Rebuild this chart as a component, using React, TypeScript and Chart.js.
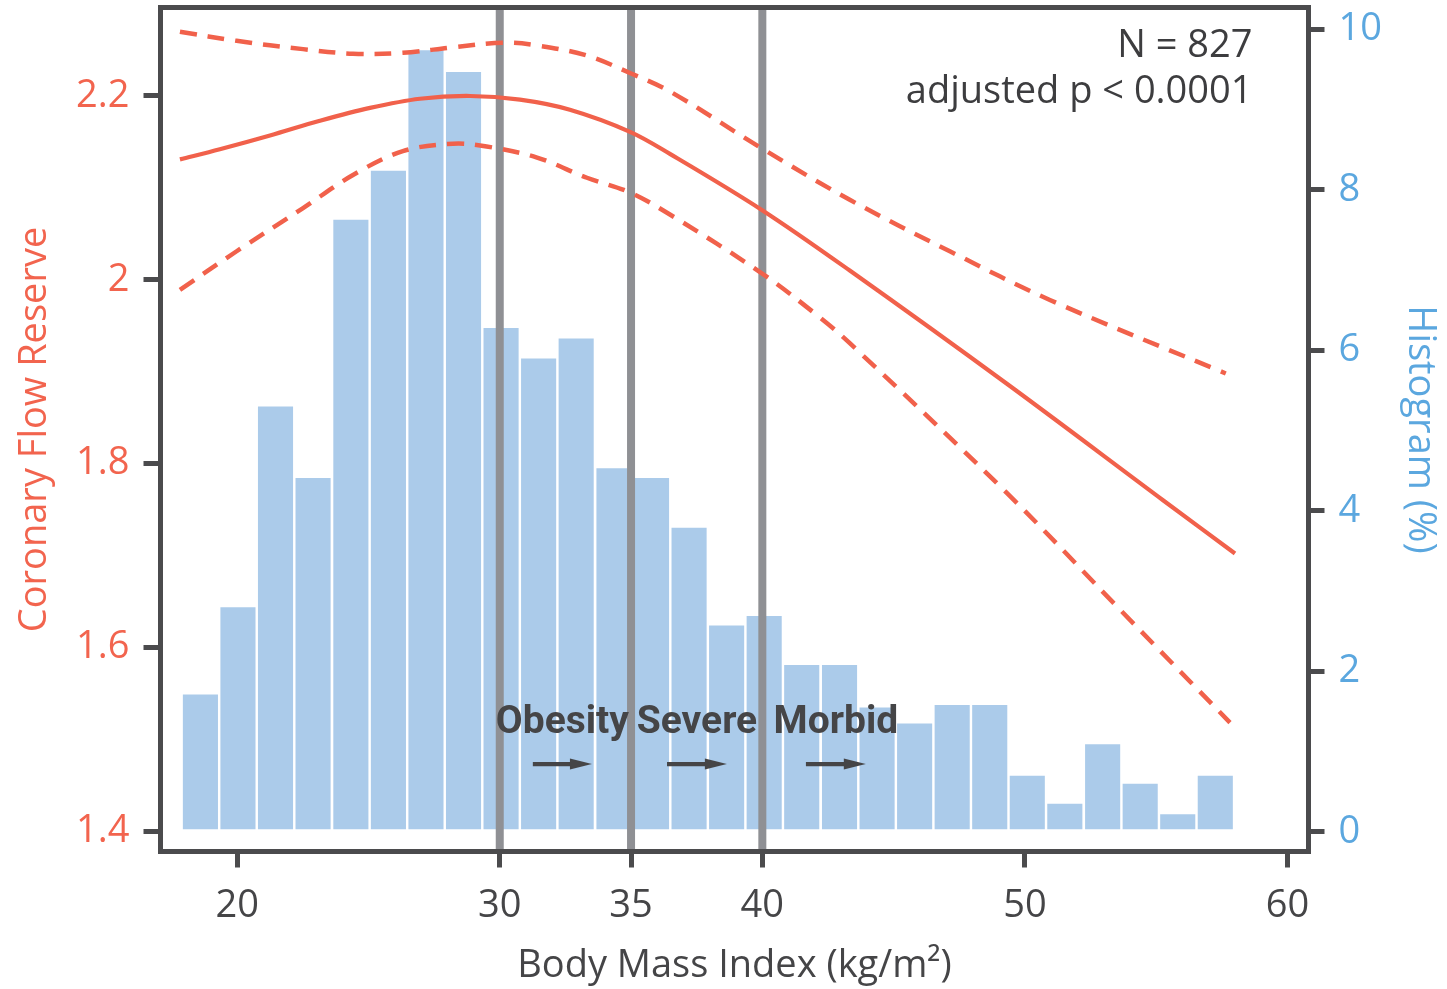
import React, { useEffect, useRef } from "react";
import { Chart, registerables } from "chart.js";

Chart.register(...registerables);

// ---------- data ----------
const binCenters = [
  18.6, 20.03, 21.46, 22.89, 24.33, 25.76, 27.19, 28.62, 30.05, 31.48, 32.91, 34.35, 35.78, 37.21,
  38.64, 40.07, 41.5, 42.94, 44.37, 45.8, 47.23, 48.66, 50.09, 51.52, 52.96, 54.39, 55.82, 57.25,
];
const histPercent = [
  1.71, 2.8, 5.3, 4.41, 7.63, 8.24, 9.74, 9.47, 6.28, 5.9, 6.15, 4.53, 4.41, 3.79,
  2.57, 2.69, 2.08, 2.08, 1.55, 1.35, 1.58, 1.58, 0.7, 0.35, 1.09, 0.6, 0.22, 0.7,
];

const fitBmi = [17.82, 19.34, 21.25, 23.15, 25.06, 26.96, 28.87, 30.77, 32.67, 34.96, 36.48, 39.98, 43.33, 49.3, 55.26, 58.0];
const fitCfr = [2.131, 2.142, 2.157, 2.173, 2.187, 2.197, 2.2, 2.196, 2.185, 2.161, 2.137, 2.076, 2.01, 1.887, 1.76, 1.702];

const upperBmi = [17.82, 19.98, 22.51, 24.41, 26.31, 28.22, 30.12, 31.42, 33.32, 34.96, 36.48, 39.98, 43.33, 47.14, 50.95, 57.65];
const upperCfr = [2.27, 2.26, 2.251, 2.246, 2.247, 2.253, 2.258, 2.255, 2.244, 2.225, 2.205, 2.143, 2.087, 2.031, 1.978, 1.898];

const lowerBmi = [17.82, 19.98, 22.51, 24.41, 26.31, 28.22, 29.5, 31.42, 33.32, 34.96, 36.48, 39.98, 42.19, 43.33, 49.31, 53.62, 57.81];
const lowerCfr = [1.989, 2.031, 2.078, 2.114, 2.14, 2.148, 2.145, 2.133, 2.111, 2.095, 2.071, 2.007, 1.959, 1.931, 1.768, 1.641, 1.518];

const cutoffs = [30, 35, 40];
const zoneLabels = ["Obesity", "Severe", "Morbid"];
const zoneArrowStart = [31.26, 36.37, 41.66];
const zoneArrowEnd = [33.51, 38.65, 43.94];
const ZONE_TEXT_Y = 1.507;
const ZONE_ARROW_Y = 1.4728;

const xTicks = [20, 30, 35, 40, 50, 60];
const yTicks = [1.4, 1.6, 1.8, 2, 2.2];
const y1Ticks = [0, 2, 4, 6, 8, 10];
const statsLines = ["N = 827", "adjusted p < 0.0001"];

const X_MIN = 17.08, X_MAX = 60.8;
const Y_MIN = 1.3777, Y_MAX = 2.2963;
const Y1_MIN = -0.2455, Y1_MAX = 10.274;

// ---------- styles ----------
const RED = "#f1614b";
const RED_TEXT = "#f2644e";
const BLUE_TEXT = "#5ba7df";
const BAR = "#abcbea";
const FRAME = "#4b4b4d";
const CUT = "#8f9094";
const DARK = "#454547";
const FONT = "'Open Sans', sans-serif";

const overlayPlugin = {
  id: "overlay",
  afterDatasetsDraw(chart: any) {
    const { ctx, chartArea, scales } = chart;
    const xs = scales.x, ys = scales.y;
    ctx.save();
    ctx.fillStyle = DARK;
    ctx.strokeStyle = DARK;
    ctx.font = "bold 39px Roboto";
    ctx.textAlign = "center";
    ctx.textBaseline = "alphabetic";
    zoneLabels.forEach((lab, i) => {
      const x0 = xs.getPixelForValue(zoneArrowStart[i]);
      const x1 = xs.getPixelForValue(zoneArrowEnd[i]);
      const ty = ys.getPixelForValue(ZONE_TEXT_Y);
      ctx.fillText(lab, (x0 + x1) / 2, ty);
      const ay = ys.getPixelForValue(ZONE_ARROW_Y);
      ctx.lineWidth = 4.3;
      ctx.beginPath();
      ctx.moveTo(x0, ay);
      ctx.lineTo(x1 - 18, ay);
      ctx.stroke();
      ctx.beginPath();
      ctx.moveTo(x1, ay);
      ctx.lineTo(x1 - 22, ay - 5.5);
      ctx.lineTo(x1 - 22, ay + 5.5);
      ctx.closePath();
      ctx.fill();
    });
    ctx.font = "38px " + FONT;
    ctx.textAlign = "right";
    ctx.fillStyle = "#3d3d3f";
    statsLines.forEach((s, i) => {
      ctx.fillText(s, chartArea.right - 56, chartArea.top + 49.5 + i * 46);
    });
    ctx.lineWidth = 5;
    ctx.strokeStyle = FRAME;
    ctx.strokeRect(chartArea.left, chartArea.top, chartArea.right - chartArea.left, chartArea.bottom - chartArea.top);
    ctx.restore();
  },
};

export default function App() {
  const ref = useRef<HTMLCanvasElement | null>(null);

  useEffect(() => {
    document.body.style.margin = "0";
    document.body.style.overflow = "hidden";
    const canvas = ref.current;
    if (!canvas) return;

    const tickGrid = (len: number) => ({
      display: true,
      offset: false,
      drawOnChartArea: false,
      drawTicks: true,
      tickLength: len,
      lineWidth: 5,
      tickWidth: 5,
      color: FRAME,
      tickColor: FRAME,
    });

    const lineCommon = {
      type: "line",
      yAxisID: "y",
      xAxisID: "x",
      borderColor: RED,
      pointRadius: 0,
      tension: 0.35,
      fill: false,
    };

    const datasets: any[] = [
      {
        type: "bar",
        label: "Histogram",
        data: binCenters.map((x, i) => ({ x, y: histPercent[i] })),
        yAxisID: "y1",
        xAxisID: "x",
        backgroundColor: BAR,
        borderWidth: 0,
        barPercentage: 0.935,
        categoryPercentage: 1,
        order: 10,
      },
      ...cutoffs.map((c) => ({
        type: "line",
        label: "cut " + c,
        data: [
          { x: c, y: Y_MIN },
          { x: c, y: Y_MAX },
        ],
        yAxisID: "y",
        xAxisID: "x",
        borderColor: CUT,
        borderWidth: 8,
        borderCapStyle: "butt",
        pointRadius: 0,
        fill: false,
        order: 5,
      })),
      {
        ...lineCommon,
        label: "upper",
        data: upperBmi.map((x, i) => ({ x, y: upperCfr[i] })),
        borderWidth: 4.5,
        borderDash: [17, 11],
        borderCapStyle: "butt",
        order: 2,
      },
      {
        ...lineCommon,
        label: "lower",
        data: lowerBmi.map((x, i) => ({ x, y: lowerCfr[i] })),
        borderWidth: 4.5,
        borderDash: [17, 11],
        borderCapStyle: "butt",
        order: 2,
      },
      {
        ...lineCommon,
        label: "fit",
        data: fitBmi.map((x, i) => ({ x, y: fitCfr[i] })),
        borderWidth: 4.2,
        order: 1,
      },
    ];

    const noPadV = (w: number) => (s: any) => {
      s.width = w;
      s.paddingTop = 0;
      s.paddingBottom = 0;
    };

    const chart = new Chart(canvas, {
      type: "bar",
      data: { datasets },
      plugins: [overlayPlugin],
      options: {
        responsive: false,
        animation: false,
        devicePixelRatio: 1,
        layout: { padding: { top: 7.5, left: 0, right: 0, bottom: 0 } },
        plugins: { legend: { display: false }, tooltip: { enabled: false } },
        scales: {
          x: {
            type: "linear",
            position: "bottom",
            min: X_MIN,
            max: X_MAX,
            offset: false,
            afterFit: (s: any) => {
              s.height = 137.5;
              s.paddingLeft = 0;
              s.paddingRight = 0;
            },
            afterBuildTicks: (s: any) => {
              s.ticks = xTicks.map((v) => ({ value: v }));
            },
            ticks: {
              color: DARK,
              font: { family: FONT, size: 38 },
              padding: 16,
              autoSkip: false,
              maxRotation: 0,
              callback: (v: any) => String(v),
            },
            grid: tickGrid(16),
            border: { display: false },
            title: {
              display: true,
              text: "Body Mass Index (kg/m²)",
              color: DARK,
              font: { family: FONT, size: 38 },
              padding: { top: 0, bottom: 0 },
            },
          },
          y: {
            type: "linear",
            position: "left",
            min: Y_MIN,
            max: Y_MAX,
            afterFit: noPadV(160.5),
            afterBuildTicks: (s: any) => {
              s.ticks = yTicks.map((v) => ({ value: v }));
            },
            ticks: {
              color: RED_TEXT,
              font: { family: FONT, size: 38 },
              padding: 14,
              callback: (v: any) => String(v),
            },
            grid: tickGrid(17),
            border: { display: false },
            title: {
              display: true,
              text: "Coronary Flow Reserve",
              color: RED_TEXT,
              font: { family: FONT, size: 38 },
              padding: { top: 12, bottom: 0 },
            },
          },
          y1: {
            type: "linear",
            position: "right",
            min: Y1_MIN,
            max: Y1_MAX,
            afterFit: noPadV(138.5),
            afterBuildTicks: (s: any) => {
              s.ticks = y1Ticks.map((v) => ({ value: v }));
            },
            ticks: {
              color: BLUE_TEXT,
              font: { family: FONT, size: 38 },
              padding: 14,
              callback: (v: any) => String(v),
            },
            grid: tickGrid(16),
            border: { display: false },
            title: {
              display: true,
              text: "Histogram (%)",
              color: BLUE_TEXT,
              font: { family: FONT, size: 38 },
              padding: { top: 4, bottom: 0 },
            },
          },
        },
      } as any,
    });

    return () => chart.destroy();
  }, []);

  return <canvas ref={ref} width={1447} height={989} style={{ display: "block" }} />;
}
